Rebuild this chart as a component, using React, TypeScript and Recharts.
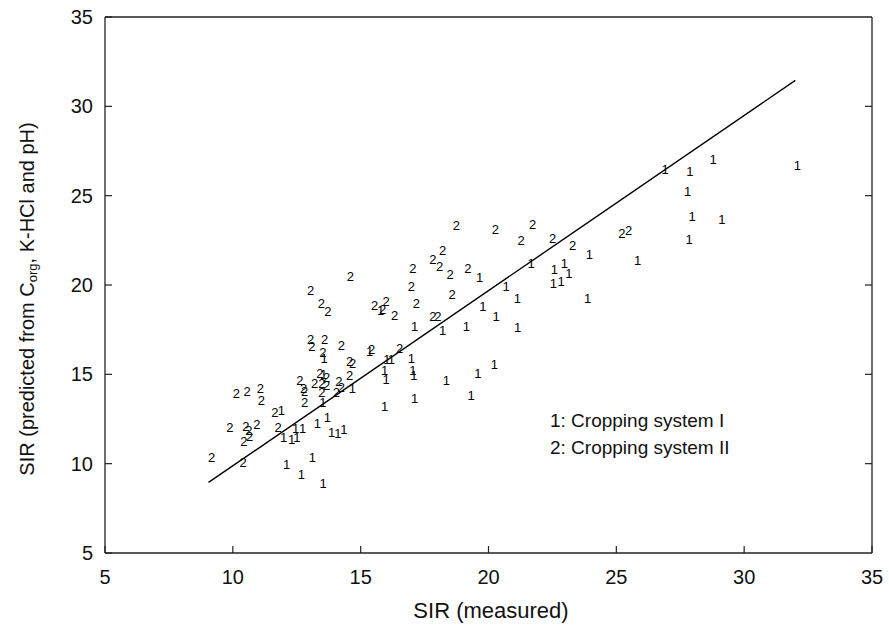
import React from 'react';
import { ScatterChart, Scatter, XAxis, YAxis } from 'recharts';

const FONT = '"Liberation Sans", Arial, Helvetica, sans-serif';

const TICKS = [5, 10, 15, 20, 25, 30, 35];
const INNER_TICKS = [10, 15, 20, 25, 30];

// cropping system I (marker "1")
const CS1_X = [
  12.1, 13.11, 12.68, 13.53, 11.99, 12.3, 12.5, 12.46, 12.73, 11.9, 13.31, 13.7, 13.86, 14.11, 14.34,
  13.52, 13.55, 13.57, 14.68, 15.35, 16.02, 16.2, 15.94, 16.0, 15.94, 16.98, 17.04, 17.08, 17.11, 18.35,
  19.32, 19.58, 20.23, 15.78, 17.11, 18.21, 19.13, 19.78, 20.3, 21.14, 19.65, 20.69, 21.13, 21.67, 22.58,
  22.97, 23.14, 22.54, 22.84, 23.95, 23.88, 25.83, 26.91, 27.88, 28.79, 32.08, 27.79, 27.96, 29.13, 27.85,
];
const CS1_Y = [
  9.98, 10.32, 9.38, 8.89, 11.46, 11.35, 11.46, 11.97, 11.97, 12.98, 12.23, 12.6, 11.76, 11.67, 11.89,
  13.43, 15.0, 15.88, 14.2, 16.29, 15.84, 15.84, 15.22, 14.72, 13.2, 15.88, 15.22, 14.94, 13.63, 14.66,
  13.82, 15.07, 15.56, 18.6, 17.66, 17.47, 17.7, 18.82, 18.22, 17.62, 20.43, 19.9, 19.27, 21.22, 20.84,
  21.22, 20.66, 20.1, 20.19, 21.69, 19.25, 21.37, 26.46, 26.33, 27.02, 26.69, 25.24, 23.84, 23.65, 22.57,
];

// cropping system II (marker "2")
const CS2_X = [
  9.17, 10.4, 9.88, 10.43, 10.66, 10.51, 10.63, 10.94, 10.14, 10.56, 11.08, 11.12, 11.64, 11.77, 12.62,
  12.77, 12.81, 12.81, 13.4, 13.67, 13.2, 13.48, 13.67, 13.48, 14.15, 14.25, 14.05, 14.57, 13.04, 13.59,
  13.09, 14.25, 13.52, 14.57, 14.69, 15.43, 16.52, 14.6, 13.04, 13.46, 13.72, 15.55, 16.0, 15.86, 16.33,
  17.04, 16.98, 17.18, 18.21, 17.82, 18.09, 18.5, 19.19, 18.58, 17.82, 18.02, 18.74, 20.27, 21.73, 21.28,
  22.51, 23.29, 25.22, 25.48,
];
const CS2_Y = [
  10.32, 10.07, 12.04, 11.24, 11.52, 12.08, 11.85, 12.19, 13.95, 14.06, 14.2, 13.54, 12.88, 12.04, 14.66,
  14.21, 14.04, 13.44, 15.06, 14.83, 14.49, 14.49, 14.38, 14.01, 14.62, 14.29, 14.01, 14.94, 16.97, 16.97,
  16.54, 16.63, 16.24, 15.73, 15.62, 16.4, 16.44, 20.47, 19.68, 18.97, 18.5, 18.88, 19.06, 18.65, 18.31,
  20.94, 19.9, 18.97, 21.93, 21.4, 21.03, 20.56, 20.94, 19.49, 18.26, 18.26, 23.31, 23.09, 23.37, 22.49,
  22.62, 22.19, 22.9, 23.03,
];

// regression line end points
const FIT_X = [9.05, 32.0];
const FIT_Y = [8.95, 31.45];

const cs1Data = CS1_X.map((x, i) => ({ x, y: CS1_Y[i] }));
const cs2Data = CS2_X.map((x, i) => ({ x, y: CS2_Y[i] }));
const fitData = FIT_X.map((x, i) => ({ x, y: FIT_Y[i] }));

const digit = (label: string) => (props: any) => (
  <text
    x={props.cx}
    y={props.cy}
    textAnchor="middle"
    dominantBaseline="central"
    fontSize={13}
    fontFamily={FONT}
    fill="#000"
  >
    {label}
  </text>
);

const AXIS = '#222';
const tickStyle = { fill: '#111', fontSize: 20, fontFamily: FONT };

export default function App() {
  return (
    <div style={{ position: 'absolute', left: 0, top: 0, width: 889, height: 636, fontFamily: FONT, color: '#111' }}>
      <ScatterChart width={889} height={636} margin={{ top: 16, right: 16, bottom: 53, left: 45 }}>
        <XAxis
          dataKey="x"
          type="number"
          domain={[5, 35]}
          ticks={TICKS}
          allowDataOverflow
          height={30}
          tickSize={-7}
          tickMargin={24}
          tick={tickStyle}
          axisLine={{ stroke: AXIS, strokeWidth: 1.3 }}
          tickLine={{ stroke: AXIS, strokeWidth: 1.2 }}
        />
        <XAxis
          xAxisId="top"
          orientation="top"
          type="number"
          domain={[5, 35]}
          ticks={INNER_TICKS}
          allowDataOverflow
          height={1}
          tickSize={-7}
          tickFormatter={() => ''}
          axisLine={{ stroke: AXIS, strokeWidth: 1.3 }}
          tickLine={{ stroke: AXIS, strokeWidth: 1.2 }}
        />
        <YAxis
          dataKey="y"
          type="number"
          domain={[5, 35]}
          ticks={TICKS}
          allowDataOverflow
          width={60}
          tickSize={-7}
          tickMargin={19}
          tick={tickStyle}
          axisLine={{ stroke: AXIS, strokeWidth: 1.3 }}
          tickLine={{ stroke: AXIS, strokeWidth: 1.2 }}
        />
        <YAxis
          yAxisId="right"
          orientation="right"
          type="number"
          domain={[5, 35]}
          ticks={INNER_TICKS}
          allowDataOverflow
          width={1}
          tickSize={-7}
          tickFormatter={() => ''}
          axisLine={{ stroke: AXIS, strokeWidth: 1.3 }}
          tickLine={{ stroke: AXIS, strokeWidth: 1.2 }}
        />
        <Scatter data={fitData} line={{ stroke: '#000', strokeWidth: 1.4 }} shape={() => <g />} isAnimationActive={false} />
        <Scatter data={cs1Data} shape={digit('1')} isAnimationActive={false} />
        <Scatter data={cs2Data} shape={digit('2')} isAnimationActive={false} />
      </ScatterChart>

      {/* axis titles */}
      <div
        style={{
          position: 'absolute',
          left: 28,
          top: 299,
          transform: 'translate(-50%, -50%) rotate(-90deg)',
          whiteSpace: 'nowrap',
          fontSize: 20,
        }}
      >
        SIR (predicted from C<sub style={{ fontSize: 13, verticalAlign: '-0.3em' }}>org</sub>, K-HCl and pH)
      </div>
      <div
        style={{
          position: 'absolute',
          left: 491,
          top: 611,
          transform: 'translate(-50%, -50%)',
          whiteSpace: 'nowrap',
          fontSize: 22,
        }}
      >
        SIR (measured)
      </div>

      {/* key */}
      <div style={{ position: 'absolute', left: 550, top: 407, fontSize: 19, lineHeight: '27px', whiteSpace: 'nowrap' }}>
        <div>1: Cropping system I</div>
        <div>2: Cropping system II</div>
      </div>
    </div>
  );
}
